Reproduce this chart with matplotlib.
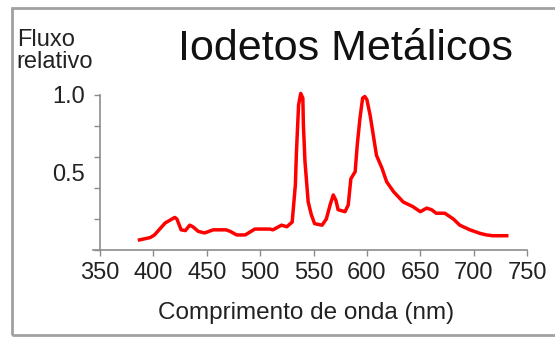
import numpy as np
import matplotlib.pyplot as plt
from matplotlib.patches import Rectangle
from matplotlib.lines import Line2D

plt.rcParams['font.family'] = ['Liberation Sans', 'DejaVu Sans']

# spectrum of a metal halide lamp (relative flux vs wavelength)
wavelength = [387, 397, 401, 411, 420, 422, 426, 430, 434, 437, 442, 448, 456, 468, 472,
              478, 486, 495, 509, 512, 520, 525, 530, 533, 534, 536, 538, 540, 540.5,
              542, 545, 548, 551, 558, 562, 565.5, 568.5, 571, 573, 579.5, 582.5, 585,
              589, 591, 593.5, 596, 598, 600, 603, 606, 609, 614, 618.5, 625, 634, 643,
              650, 656, 660.5, 665, 673, 681, 687, 696.5, 706, 712, 718, 731]
flux = [0.065, 0.08, 0.097, 0.174, 0.21, 0.2, 0.13, 0.125, 0.16, 0.15, 0.12, 0.11, 0.13,
        0.13, 0.12, 0.097, 0.097, 0.135, 0.135, 0.13, 0.16, 0.15, 0.18, 0.42, 0.63, 0.935,
        1.01, 0.98, 0.81, 0.57, 0.31, 0.226, 0.17, 0.16, 0.2, 0.29, 0.355, 0.32, 0.26,
        0.247, 0.29, 0.46, 0.505, 0.68, 0.85, 0.98, 0.99, 0.97, 0.87, 0.74, 0.61, 0.53,
        0.44, 0.376, 0.31, 0.28, 0.247, 0.27, 0.26, 0.237, 0.237, 0.2, 0.16, 0.13, 0.107,
        0.097, 0.092, 0.092]

x_ticks = [350, 400, 450, 500, 550, 600, 650, 700, 750]
y_ticks = [0, 0.2, 0.4, 0.6, 0.8, 1.0]
y_labels = [0.5, 1.0]

fig = plt.figure(figsize=(5.55, 3.38), dpi=100)
ax = fig.add_axes([0.1802, 0.2604, 0.7694, 0.4586])

ax.plot(wavelength, flux, color='#ff0000', lw=2.5, clip_on=False, solid_joinstyle='round')

ax.set_xlim(350, 750)
ax.set_ylim(0, 1.0)

axis_color = '#8c8c8c'
for side in ['top', 'right']:
    ax.spines[side].set_visible(False)
for side in ['left', 'bottom']:
    ax.spines[side].set_color(axis_color)
    ax.spines[side].set_linewidth(1.2)

# bottom axis runs a little past the vertical axis
ax.add_line(Line2D([-0.017, 0], [0, 0], transform=ax.transAxes, color=axis_color,
                   lw=1.2, clip_on=False))

ax.set_xticks(x_ticks)
ax.tick_params(axis='x', direction='out', length=4, width=1, color=axis_color,
               labelsize=17, labelcolor='#222222', pad=5)

# unlabeled ticks every 0.2, labels only at 0.5 and 1.0
ax.yaxis.remove_overlapping_locs = False
ax.set_yticks(y_ticks)
ax.set_yticklabels([])
ax.tick_params(axis='y', which='major', direction='out', length=4, width=1, color=axis_color)
ax.set_yticks(y_labels, minor=True)
ax.set_yticklabels(['0.5', '1.0'], minor=True)
ax.tick_params(axis='y', which='minor', length=0, labelsize=17, labelcolor='#222222', pad=11)

fig.text(0.6216, 1 - 60 / 338, 'Iodetos Metálicos', fontsize=31, ha='center', va='baseline',
         color='#111111')
fig.text(0.030, 1 - 29 / 338, 'Fluxo\nrelativo', fontsize=17, ha='left', va='top',
         color='#222222', linespacing=1.0)
fig.text(0.551, 0.075, 'Comprimento de onda (nm)', fontsize=17.5, ha='center', va='center',
         color='#222222')

# frame around the figure
fig.patches.append(Rectangle((12 / 555, 3 / 338), 1.0, 327 / 338, transform=fig.transFigure,
                             fill=False, edgecolor='#a0a0a0', lw=2.0))

fig.savefig('out.png', dpi=100)
